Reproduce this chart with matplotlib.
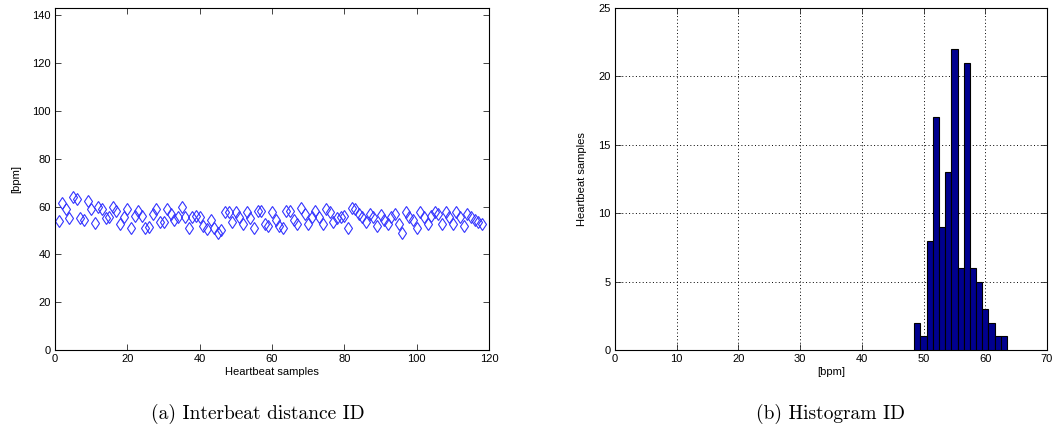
import matplotlib
matplotlib.use("Agg")
import matplotlib.pyplot as plt

# Heart rate of each heartbeat sample [bpm]
sample_bpm = [
    54, 61.5, 59, 55, 64, 63, 55, 54.5, 62.5, 59,
    53, 60, 59, 55, 55.5, 60, 58, 52.5, 55.5, 59,
    51, 56, 58, 56, 51, 51.5, 57, 59, 53.5, 53.5,
    59, 57, 54.5, 55.5, 60, 55.5, 51, 55.5, 56, 55.5,
    52, 50.5, 54.5, 51, 49, 50, 57.5, 57.5, 53.5, 57.5,
    55.5, 52.5, 57.5, 55, 51, 58, 58, 52.5, 52, 57.5,
    54.5, 52, 51, 58, 58, 54.5, 52.5, 59.5, 57, 52.5,
    55.5, 58, 55.5, 52.5, 59, 57.5, 53.5, 55, 55.5, 56,
    51, 59.5, 59, 57, 55.5, 53.5, 57, 55.5, 52, 56.5,
    54.5, 52.5, 55.5, 57, 52.5, 49, 57.5, 55.5, 54.5, 51,
    57.5, 55.5, 52.5, 56, 57.5, 57, 52.5, 57.5, 55.5, 52.5,
    57.5, 55.5, 52, 57, 55.5, 54.5, 53.5, 52.5,
]
sample_index = list(range(1, len(sample_bpm) + 1))

# Histogram of the heart rate
hist_centers = [49, 50, 51, 52, 53, 54, 55, 56, 57, 58, 59, 60, 61, 62, 63]
hist_counts = [2, 1, 8, 17, 9, 13, 22, 6, 21, 6, 5, 3, 2, 1, 1]

left_xticks = [0, 20, 40, 60, 80, 100, 120]
left_yticks = [0, 20, 40, 60, 80, 100, 120, 140]
right_xticks = [0, 10, 20, 30, 40, 50, 60, 70]
right_yticks = [0, 5, 10, 15, 20, 25]

plt.rcParams["font.family"] = ["Liberation Sans", "DejaVu Sans"]

W, H = 1059, 440
fig = plt.figure(figsize=(W / 100, H / 100), dpi=100)


def style_axes(ax):
    ax.tick_params(direction="in", length=4, width=0.6, labelsize=8,
                   top=True, right=True, pad=3, colors="#262626",
                   labelcolor="black")
    for sp in ax.spines.values():
        sp.set_linewidth(0.8)
        sp.set_color("black")


# (a) heart rate per heartbeat sample
ax1 = fig.add_axes([55 / W, 1 - 350 / H, 434 / W, 342 / H])
ax1.plot(sample_index, sample_bpm, linestyle="none", marker="d",
         markersize=6, markerfacecolor="none", markeredgecolor="#3333ff",
         markeredgewidth=0.8)
ax1.set_xlim(0, 120)
ax1.set_ylim(0, 143)
ax1.set_xticks(left_xticks)
ax1.set_yticks(left_yticks)
ax1.set_xlabel("Heartbeat samples", fontsize=8, labelpad=2)
ax1.set_ylabel("[bpm]", fontsize=8, labelpad=8)
style_axes(ax1)

# (b) histogram
ax2 = fig.add_axes([615 / W, 1 - 350 / H, 432 / W, 342 / H])
ax2.bar(hist_centers, hist_counts, width=1.0, color="#00008f",
        edgecolor="black", linewidth=0.8, zorder=3)
ax2.set_xlim(0, 70)
ax2.set_ylim(0, 25)
ax2.set_xticks(right_xticks)
ax2.set_yticks(right_yticks)
ax2.grid(True, linestyle=(0, (1, 2.5)), color="black", linewidth=0.7, zorder=0)
ax2.set_axisbelow(True)
ax2.set_xlabel("[bpm]", fontsize=8, labelpad=2)
ax2.set_ylabel("Heartbeat samples", fontsize=8, labelpad=8)
style_axes(ax2)

# captions
cap = dict(fontsize=14, family=["cmr10", "DejaVu Serif"],
           ha="center", va="center")
fig.text(258 / W, 1 - 414 / H, "(a) Interbeat distance ID", **cap)
fig.text(831 / W, 1 - 414 / H, "(b) Histogram ID", **cap)

fig.savefig("out.png", dpi=100)
